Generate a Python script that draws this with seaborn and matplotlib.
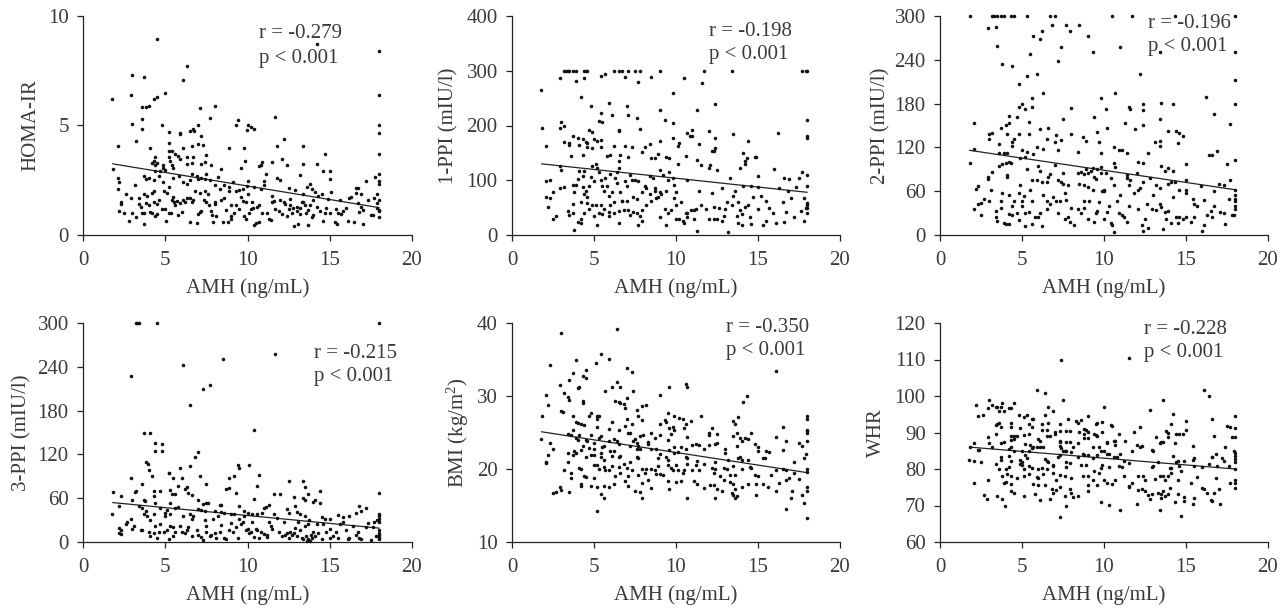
import matplotlib
matplotlib.use("Agg")
import matplotlib.pyplot as plt
import pandas as pd
import seaborn as sns

sns.set_theme(style="ticks")
plt.rcParams["font.family"] = ["Liberation Serif", "DejaVu Serif"]
plt.rcParams["mathtext.fontset"] = "custom"
plt.rcParams["mathtext.rm"] = "Liberation Serif"
plt.rcParams["mathtext.default"] = "regular"

TXT = "#3a3a3a"

# values: (AMH, y)
homa = [(4.5,8.95),(14.2,8.7),(18,8.4),(6.3,7.7),(3,7.3),(3.7,7.2),(6.1,7.1),(18,6.4),(2.9,6.4),(1.75,6.2),(4.3,6.2),(4.5,6.3),(5,6.5),
(3.6,5.85),(3.8,5.85),(4,5.9),(7.1,5.8),(8,5.9),(7.7,5.35),(3.6,5.3),(9.4,5.25),(11.7,5.4),(3,5.05),(4.8,5.0),(3.6,4.85),(7,5.0),(9.3,5.0),
(10,5.0),(10.2,4.95),(10.4,4.85),(9.95,4.8),(18,5.0),(18,4.65),(5.2,4.7),(6.5,4.75),(6.7,4.85),(6.75,4.75),(5.9,4.65),(5.9,4.6),(7.2,4.5),
(12.2,4.4),(3.2,4.3),(5.2,4.2),(2.1,4.05),(4.1,3.95),(6.6,4.05),(6.1,3.95),(7,4.15),(7.3,4.1),(8.9,3.95),(9.8,3.95),(11.8,4.05),(13.4,4.05),
(14.7,3.7),(18,3.7),(5.2,3.85),(5.4,3.85),(5.6,3.7),(5.8,3.6),(5.9,3.45),(6.3,3.55),(6.7,3.55),(7.5,3.65),(7.4,3.35),(4.4,3.55),(4.3,3.4),
(4.2,3.3),(4.4,3.2),(4.5,3.3),(5.2,3.55),(5.3,3.4),(5.4,3.2),(5.45,3.05),(4.85,3.2),(4.85,3.05),(6.3,3.25),(6.6,3.3),(7.2,3.25),(7.8,3.2),
(8.4,3.0),(9.6,3.05),(9.85,3.4),(10.7,3.15),(10.8,3.2),(10.9,3.35),(11.5,3.35),(12.1,3.45),(12.4,3.2),(13.2,2.75),(13.4,3.25),(14.2,3.25),
(14.6,2.9),(15,2.9),(15,2.55),(1.8,3.0),(2.1,2.6),(2.1,2.1),(2.2,2.4),(2.2,1.1),(2.3,1.5),(2.3,1.4),(2.5,1.0),(2.6,1.85),(2.8,0.65),(2.9,1.7),
(3,1.0),(3.15,2.3),(3.2,0.8),(3.4,1.7),(3.4,1.4),(3.5,1.3),(3.6,1.0),(3.7,0.5),(3.7,1.0),(3.7,1.85),(3.7,2.7),(3.8,2.55),(3.9,1.8),(3.85,1.45),
(4,1.35),(4,2.6),(4.2,1.9),(4.1,1.05),(4.2,1.0),(4.3,1.5),(4.3,2.0),(4.3,2.5),(4.4,0.85),(4.4,2.9),(4.5,0.95),(4.5,1.4),(4.6,2.7),(4.65,1.6),
(4.7,2.9),(4.8,1.2),(4.85,2.4),(4.9,2.0),(5,1.2),(5,2.95),(5.05,0.65),(5.1,1.9),(5.2,1.0),(5.2,2.2),(5.35,1.0),(5.4,1.6),(5.5,1.75),(5.5,2.6),
(5.55,1.5),(5.6,1.35),(5.7,1.55),(5.8,0.9),(5.85,2.7),(5.9,1.45),(6,1.05),(6.05,1.6),(6.1,2.4),(6.2,1.5),(6.3,1.7),(6.3,2.35),(6.5,0.6),(6.5,1.7),
(6.5,2.5),(6.6,1.5),(6.6,2.8),(6.7,1.6),(6.8,2.0),(6.9,0.55),(6.9,2.7),(7,0.95),(7,2.55),(7.1,1.05),(7.1,1.9),(7.2,1.1),(7.2,2.6),(7.35,1.6),
(7.4,2.0),(7.4,2.55),(7.5,1.5),(7.5,2.8),(7.6,1.85),(7.65,1.35),(7.7,2.5),(7.8,1.1),(7.85,0.9),(7.9,0.6),(8,1.5),(8,2.3),(8.05,1.4),(8.1,0.85),
(8.2,2.65),(8.3,2.1),(8.4,1.6),(8.5,0.6),(8.6,2.3),(8.6,1.7),(8.7,1.15),(8.8,0.6),(8.85,2.2),(8.9,2.0),(9,0.85),(9,1.35),(9,0.75),(9.1,2.4),
(9.2,1.0),(9.3,1.35),(9.3,2.0),(9.5,2.05),(9.5,1.2),(9.6,1.75),(9.7,1.55),(9.7,2.1),(9.8,0.85),(9.9,1.5),(9.9,0.75),(9.95,2.25),(10,2.45),(10,1.85),
(10.1,1.0),(10.2,1.2),(10.3,1.5),(10.35,1.25),(10.4,0.45),(10.4,2.2),(10.5,0.55),(10.6,1.3),(10.7,0.6),(10.7,1.35),(10.8,2.1),(10.9,1.0),(11,2.45),
(11,2.3),(11.1,2.8),(11.2,1.0),(11.3,0.75),(11.4,0.7),(11.5,1.5),(11.5,1.8),(11.6,1.55),(11.7,1.2),(11.8,2.6),(11.9,1.1),(12,2.5),(12,1.6),(12.1,0.95),
(12.2,1.5),(12.3,1.4),(12.4,0.85),(12.5,1.2),(12.55,2.15),(12.6,1.65),(12.6,1.35),(12.7,1.0),(12.75,1.25),(12.8,0.4),(12.9,2.05),(13,1.3),(13,1.1),
(13.1,0.5),(13.2,0.95),(13.2,1.25),(13.3,1.5),(13.4,1.85),(13.4,1.5),(13.5,1.35),(13.55,1.0),(13.6,2.2),(13.65,1.15),(13.7,0.45),(13.8,2.35),(13.8,1.35),
(13.9,0.8),(13.9,2.1),(14,1.6),(14,0.9),(14.1,1.95),(14.2,1.3),(14.3,1.8),(14.4,1.1),(14.5,1.85),(14.6,0.65),(14.7,1.0),(14.8,1.25),(14.9,1.65),(15,1.0),
(15.05,1.95),(15.3,0.6),(15.4,1.2),(15.45,0.5),(15.5,1.0),(15.6,1.6),(15.7,0.95),(15.8,1.1),(16,1.25),(16.1,0.65),(16.2,1.7),(16.3,1.75),(16.5,0.6),
(16.6,2.15),(16.6,1.9),(16.7,1.45),(16.7,2.15),(16.8,1.05),(16.9,1.85),(16.9,1.3),(17,0.5),(17,1.15),(17.2,2.45),(17.3,1.6),(17.5,0.9),(17.6,0.9),
(17.7,1.7),(17.75,2.65),(17.9,1.85),(17.9,1.45),(18,0.8),(18,1.1),(18,1.15),(18,1.6),(18,2.35),(18,2.45),(18,2.8),(17.9,1.25)]

ppi1 = [(3.2,300),(3.3,300),(3.4,300),(3.5,300),(3.7,300),(3.9,300),(4.4,300),(4.5,300),(4.55,300),(6.2,300),(6.55,300),(6.7,300),(7.1,300),(7.5,300),
(7.8,300),(9,300),(11.7,300),(13.4,300),(17.7,300),(18,300),(17.95,300),(2.9,286),(3.9,282),(4.4,287),(5.4,290),(5.7,294),(6.9,289),(7.7,280),(8.5,288),
(10.5,287),(11.6,278),(1.75,264),(9.8,260),(4.2,252),(4.8,236),(5.9,242),(7,236),(9,229),(5.4,223),(6.1,220),(7.1,220),(7.6,214),(11.3,229),(12.4,239),
(9.3,210),(9.8,204),(5.3,208),(5.5,206),(18,210),(1.8,196),(2.9,195),(3,206),(3.2,200),(4.7,191),(4.9,188),(6.5,192),(6.5,190),(7.8,193),(10.7,186),
(11,192),(12,190),(10.85,180),(10.95,180),(18,180),(18,177),(16.2,186),(13.5,185),(12.4,177),(9.8,178),(3.7,180),(4,178),(4.3,175),(4.5,170),(5,175),
(5.2,172),(5.4,173),(8.4,167),(9,172),(10.2,168),(10.15,163),(11.4,167),(12.4,158),(14.4,171),(14.1,150),(14.2,135),(14.3,140),(14.2,130),(14.9,142),
(14.8,142),(2.1,163),(3.2,169),(3.5,168),(3.5,165),(4.1,165),(4.3,146),(4.6,168),(4.6,160),(4.9,158),(5.4,160),(5.8,144),(5.95,147),(6.2,162),(6.5,135),
(6.6,146),(6.9,162),(7.1,142),(7.3,160),(7.9,152),(8.1,160),(8.5,140),(8.7,140),(8.9,148),(9.4,142),(9.6,140),(10.1,129),(10.6,145),(11.3,137),(11.5,127),
(12,122),(12.1,127),(12.2,154),(12.3,154),(12.5,119),(2.9,126),(3,118),(3.7,92),(3.6,144),(3.8,78),(4,103),(3.9,92),(4.1,117),(4.3,108),(4.4,117),(4.3,88),
(4.4,75),(4.5,80),(4.6,70),(4.7,90),(4.8,106),(4.9,126),(5,98),(5.1,130),(5.2,122),(5.3,115),(5.4,100),(5.5,90),(5.6,80),(5.7,105),(5.8,90),(5.9,72),
(6,112),(6.1,78),(6.3,105),(6.4,95),(6.4,115),(6.5,122),(6.6,78),(6.7,62),(6.9,98),(7,90),(7.2,110),(7.3,100),(7.4,70),(7.5,100),(7.6,65),(7.7,98),(7.9,78),
(8.1,90),(8.2,85),(8.4,75),(8.4,108),(8.6,105),(8.7,85),(8.8,68),(8.9,70),(9,118),(9,78),(9.2,110),(9.4,80),(9.5,100),(9.6,115),(9.8,105),(9.9,92),(10,78),
(2.1,98),(2.3,100),(2.1,70),(2.3,68),(2.2,52),(2.5,78),(2.5,30),(2.7,35),(2.9,85),(3.2,87),(3.4,43),(3.5,36),(3.7,40),(3.7,57),(4,24),(3.8,9),(4.2,22),
(4.2,30),(4.2,60),(4.4,40),(4.6,58),(4.7,48),(4.9,55),(5,35),(5.1,55),(5.2,18),(5.3,40),(5.4,55),(5.5,38),(5.6,48),(5.9,34),(5.9,42),(6,54),(6.2,40),
(6.2,60),(6.5,22),(6.5,43),(6.7,62),(6.8,45),(7,63),(7.1,45),(7.2,37),(7.4,42),(7.6,40),(7.7,18),(7.8,35),(7.9,45),(7.9,26),(8.2,55),(8.5,62),(8.7,80),
(9,33),(9.1,75),(9.3,48),(9.4,18),(9.5,40),(9.7,45),(9.9,68),(10,55),(10,30),(10.2,30),(10.3,60),(10.4,26),(10.5,22),(10.6,40),(10.7,40),(10.7,32),(10.7,100),
(10.9,45),(11.1,45),(11.1,30),(11.2,48),(11.3,8),(11.4,80),(11.5,54),(11.8,48),(12,30),(12.2,77),(12.3,30),(12.3,52),(12.5,30),(12.6,50),(12.8,26),(12.8,85),
(12.9,35),(13,48),(13.1,60),(13.2,6),(13.3,105),(13.4,55),(13.5,72),(13.6,80),(13.7,35),(13.8,60),(13.8,22),(13.9,46),(13.9,122),(14,18),(14,38),(14.1,90),
(14.2,52),(14.4,55),(14.5,32),(14.6,90),(14.6,20),(14.7,70),(15,48),(15,108),(15,88),(15.2,72),(15.3,18),(15.5,26),(15.5,62),(15.7,50),(15.9,40),(16,120),
(16.1,22),(16.3,85),(16.5,60),(16.6,24),(16.6,104),(16.7,42),(16.8,80),(16.9,103),(17,68),(17.2,32),(17.3,88),(17.5,105),(17.6,44),(17.7,115),(17.8,26),
(17.8,68),(17.9,50),(18,40),(18,50),(18,58),(18,90),(18,110),(18,55)]

ppi2 = [(1.8,300),(3.2,300),(3.3,300),(3.5,300),(3.7,300),(3.9,300),(4.3,300),(4.5,300),(5.3,300),(6.7,300),(7,300),(10.5,300),(11.7,300),(14.3,300),(18,300),
(2.9,284),(3.4,285),(6.8,288),(7.7,288),(7.9,280),(8.5,288),(5.7,273),(6.2,279),(6.1,269),(9,272),(3.5,259),(7.4,258),(5.5,248),(9.3,250),(11,258),(13.4,251),
(18,251),(7.2,239),(3.8,234),(4.4,232),(5.9,221),(5.3,218),(12.2,221),(4.8,207),(18,213),(6.3,194),(10.7,195),(5.6,188),(9.8,187),(16.2,189),(5,180),(4.8,176),
(5.6,175),(5.2,172),(8,174),(10.1,173),(11.5,176),(11.6,173),(12.4,180),(13.5,181),(14.2,179),(18,180),(12.4,171),(16.7,166),(4.2,163),(4.7,161),(7.5,159),
(9.4,162),(13.4,159),(2.1,153),(4,150),(4.2,153),(5.4,155),(11.3,154),(12.4,150),(17.7,152),(3.7,146),(6.1,145),(6.6,147),(10.2,147),(11.9,145),(3,138),(3.2,140),
(4.1,139),(4.8,139),(5.4,138),(7.1,137),(8,138),(9.6,141),(13.9,143),(14.4,142),(14.6,140),(14.8,136),(3,131),(4.4,127),(4.5,131),(6.5,131),(7,128),(7.4,130),
(8.7,134),(8.9,129),(9.7,128),(13.1,128),(13.4,129),(14.5,126),(3.6,124),(4.4,122),(5.9,120),(6.3,118),(7.2,116),(2.1,118),(3.6,113),(3.9,113),(4.1,113),(5,116),
(5.3,114),(5.7,111),(8.4,114),(9.8,112),(10.6,121),(10.9,116),(11.1,117),(11.4,112),(12.7,113),(13.4,122),(16.4,109),(16.6,109),(16.9,115),(18,103),(1.8,98),(3.6,95),
(3.8,97),(4,98),(4.2,100),(4.3,98),(4.9,106),(5.2,107),(5.3,90),(6,94),(6.1,88),(7,96),(7.5,85),(8.4,85),(8.6,86),(8.8,84),(8.9,91),(9,85),(9.2,88),(9.3,92),(9.6,90),
(9.8,93),(9.8,85),(10.1,85),(10.6,98),(10.7,93),(11.4,82),(12,85),(12.1,100),(12.4,99),(13.5,94),(13.9,92),(14.2,87),(15,97),(17.5,97),(3.2,86),(2.9,80),(2.9,77),
(4.1,79),(4.1,82),(5.6,75),(5.9,75),(6.2,72),(6.5,72),(6.6,80),(6.7,84),(7.2,76),(7.4,73),(7.5,70),(7.8,68),(8.5,70),(8.8,68),(9,66),(9.3,62),(9.4,80),(9.5,77),(9.9,60),
(10,62),(10.4,78),(10.6,68),(11.4,78),(11.5,68),(11.6,76),(11.8,58),(12.1,62),(12.2,64),(12.4,72),(12.8,78),(13.2,68),(13.4,64),(13.7,88),(13.9,70),(14.1,72),(14.3,72),
(14.6,62),(15,62),(15,76),(15.9,67),(16.7,60),(17,70),(17.3,68),(17.7,75),(18,62),(18,55),(18,50),(18,46),(18,40),(18,36),(2.2,63),(2.3,67),(2.1,35),(2.3,42),(2.5,44),
(2.5,27),(2.7,49),(3,46),(3.1,62),(3.4,33),(3.4,24),(3.5,19),(3.7,46),(3.7,37),(3.8,58),(3.9,16),(4,15),(4.2,55),(4.2,29),(4.2,15),(4.4,27),(4.4,40),(4.5,47),(4.7,30),
(4.8,20),(4.8,57),(4.9,68),(5,46),(5,40),(5.1,54),(5.2,13),(5.2,30),(5.4,32),(5.5,62),(5.6,47),(5.6,15),(5.8,24),(6,25),(6.1,30),(6.2,12),(6.3,55),(6.5,36),(6.5,46),
(6.7,42),(6.9,52),(7.1,47),(7.2,30),(7.3,46),(7.6,58),(7.6,22),(7.7,48),(7.8,24),(7.9,18),(8,37),(8.2,14),(8.4,36),(8.6,30),(8.8,46),(8.8,37),(9,22),(9.1,46),(9.4,18),
(9.5,30),(9.6,33),(9.7,45),(10,60),(10,22),(10.2,32),(10.3,40),(10.4,16),(10.5,14),(10.6,4),(10.8,46),(10.9,30),(11,55),(11.1,28),(11.2,24),(11.4,18),(11.5,40),(12.1,36),
(12.3,14),(12.4,6),(12.5,22),(12.6,42),(12.7,10),(12.9,36),(13,55),(13.2,34),(13.4,42),(13.5,38),(13.6,8),(13.7,32),(13.8,22),(13.9,33),(14.1,16),(14.2,52),(14.4,24),
(14.5,16),(14.6,24),(14.8,22),(15,58),(15,24),(15.3,18),(15.4,50),(15.5,42),(15.5,24),(15.7,40),(16,5),(16.1,14),(16.1,48),(16.3,28),(16.5,33),(16.6,24),(16.7,40),(17.1,32),
(17.3,30),(17.4,15),(17.6,50),(17.8,27),(17.9,28)]

ppi3 = [(3.2,300),(3.3,300),(3.4,300),(4.5,300),(18,300),(11.7,258),(8.5,251),(6.1,242),(2.9,228),(7.7,215),(7.3,210),(6.5,187),(10.4,153),(3.7,150),(4.1,149),
(4.4,136),(4.8,134),(4.4,124),(4.8,124),(7,123),(6.8,116),(3.8,110),(3.95,107),(6.5,104),(9.4,105),(10.1,105),(9.5,101),(4,98),(5.2,95),(5.2,95),(5.9,101),(4.2,90),
(5.5,88),(6,88),(7.1,91),(8.9,87),(9.2,91),(10.7,92),(2.9,87),(12.5,83),(13.4,83),(3.6,79),(5.8,77),(6.3,75),(7.5,80),(8.7,73),(8.9,74),(10.6,77),(13.5,76),(1.8,69),
(3.2,70),(3.15,68),(4.3,70),(4.7,70),(5.3,71),(5.4,66),(5.6,66),(6.2,72),(6.4,67),(6.6,65),(9.3,67),(11.6,66),(12,66),(13.7,66),(14.4,70),(18,67),(2.3,63),(4.3,63),(7,58),
(10.4,59),(12.8,62),(13.4,60),(13.5,57),(14,55),(14.1,57),(14.4,54),(3,58),(3.7,58),(3.75,56),(4.4,53),(5.3,53),(7.3,52),(7.5,54),(7.6,54),(8.3,51),(8.4,51),(9.5,50),
(11.3,51),(12.9,49),(2.2,50),(3.4,49),(3.6,47),(4.7,46),(5.1,44),(5.6,47),(5.8,48),(7,45),(7.2,44),(7.4,43),(8,42),(8.4,41),(8.6,40),(9,39),(9.8,43),(10,40),(10.3,38),
(10.6,38),(10.9,40),(11,46),(11.1,48),(12.4,45),(12.5,40),(13,41),(13.2,38),(13.5,36),(14.5,34),(14.7,32),(15,31),(15.5,37),(15.8,34),(16.2,35),(16.6,40),(16.8,49),(16.9,43),
(17.2,46),(18,38),(18,35),(18,32),(1.75,38),(2.2,19),(2.3,17),(2.2,12),(2.3,11),(2.6,25),(2.7,27),(2.9,31),(3,18),(3.1,22),(3.5,16),(3.6,16),(3.7,38),(3.8,42),(3.9,35),(4,14),
(4.1,8),(4.1,30),(4.3,38),(4.3,12),(4.4,22),(4.5,5),(4.6,14),(4.7,25),(4.9,14),(5,36),(5,40),(5.1,16),(5.2,4),(5.3,22),(5.3,38),(5.5,20),(5.5,8),(5.6,14),(5.9,22),(6,14),
(6.1,35),(6.2,12),(6.3,16),(6.4,21),(6.5,38),(6.6,8),(6.6,32),(6.7,36),(6.9,16),(7,10),(7.2,7),(7.3,3),(7.4,30),(7.5,22),(7.5,14),(7.7,8),(7.8,10),(7.9,32),(8,12),(8.1,6),(8.2,36),
(8.3,14),(8.4,23),(8.6,5),(8.7,4),(8.9,16),(9,26),(9.1,14),(9.2,38),(9.3,20),(9.4,6),(9.5,32),(9.6,24),(9.7,28),(9.8,36),(9.9,16),(10,18),(10.1,12),(10.2,14),(10.3,28),(10.4,7),
(10.5,18),(10.6,16),(10.7,5),(10.8,14),(11,11),(11.2,10),(11.2,7),(11.3,28),(11.4,22),(11.5,18),(11.6,38),(11.8,33),(11.9,14),(12.1,8),(12.2,28),(12.3,10),(12.4,12),(12.5,6),
(12.6,14),(12.7,10),(12.8,12),(12.9,19),(13,8),(13.1,28),(13.2,16),(13.3,6),(13.4,4),(13.5,22),(13.55,8),(13.6,2),(13.65,25),(13.7,4),(13.75,30),(13.8,2),(13.85,10),(13.9,6),
(14,14),(14.1,8),(14.2,24),(14.3,13),(14.5,4),(14.6,24),(14.8,14),(15,18),(15,6),(15.2,8),(15.4,14),(15.5,6),(15.6,24),(15.8,28),(16,16),(16.1,4),(16.2,6),(16.4,22),(16.6,10),
(16.7,14),(16.8,6),(16.9,4),(17.2,20),(17.3,26),(17.5,3),(17.6,20),(17.7,28),(17.8,8),(17.9,30),(18,28),(18,16),(18,13),(18,10),(18,7),(18,4)]

bmi = [(6.4,39.2),(3,38.6),(5.4,35.7),(5.9,35.1),(3.9,35),(5.1,34.5),(2.3,34.3),(7,33.8),(7.3,33.3),(16.1,33.4),(4.5,33.5),(3.7,33.2),(4.3,32.8),(4.5,32.4),(3.5,32.2),
(6.4,31.9),(10.6,31.6),(10.7,31.3),(2.9,31.5),(4.1,31.3),(4,31.1),(6.1,31.2),(6.6,31.3),(9.6,31.2),(5.7,30.7),(7.4,30.7),(2.1,30.2),(3.2,30.4),(9,30.1),(14.3,30),(3.4,29.8),
(3.5,29.5),(4.3,29.3),(4.3,29),(6.3,29.3),(6.5,29.2),(6.6,29.1),(6.8,28.9),(14.1,29.2),(2.2,28.8),(7,29.7),(7.9,28.6),(8.2,28.7),(6.9,28.4),(3,28),(3.1,27.8),(7.6,28.1),(4.8,27.7),
(4.7,27.3),(7.7,27.3),(9.5,27.7),(1.8,27.2),(3.7,27.2),(5.2,27.3),(5.3,27.2),(5.2,26.8),(9.9,27.2),(10.2,27),(10.4,26.9),(11.5,27.2),(13.8,27.1),(18,27.3),(18,26.8),(7,26.9),
(7.9,26.7),(3.9,26.5),(4,26.3),(4.2,26.2),(4.4,26),(6.1,26.5),(7.3,26.2),(9.3,26.7),(9.4,26.4),(9,26.2),(10.6,26.2),(10.9,26.6),(13.5,26.6),(13.6,26.2),(5.2,25.8),(5.9,25.5),
(6.9,25.9),(9.6,25.6),(9.8,25.8),(9.9,25.4),(10.5,25.6),(12.2,25.6),(16.5,25.7),(18,25.4),(18,25.2),(18,24.9),(3.7,25.4),(3.4,24.8),(3.6,24.7),(4.1,24.6),(4.8,24.6),(5.4,24.5),
(5.3,24.2),(6.5,25.4),(7.1,24.9),(7.2,25),(7.8,24.5),(8,24.7),(8.5,25),(8.7,24.3),(9,24.6),(9.5,24),(9.7,24.8),(12,25),(12,24.7),(12.5,24.8),(13.7,25),(13.5,24.5),(13.9,24.2),(14.2,24.3),
(14.4,24.1),(14.6,24.9),(16.1,24.4),(3.9,24.2),(4,24),(4.5,24),(4.6,23.8),(5.9,23.9),(6.2,24.1),(6.4,23.8),(7.4,23.9),(7.5,24.1),(7.6,23.6),(8.3,23.7),(10.7,24.4),(14,23.8),(16.7,23.8),
(17.5,23.5),(18,23.8),(2.3,23.6),(4.3,23.2),(5,23.5),(5.5,23),(5.6,23.1),(6.5,23.4),(7.2,23.1),(7.7,23.2),(8.3,23.4),(9.9,23),(10.3,23),(11,23.3),(11.2,23.4),(11.4,23.3),(12.4,23.4),(12.5,23.5),
(13.7,23.2),(14.8,23.4),(17.7,23.2),(2.5,22.7),(3.8,22.5),(3.4,22.2),(3.9,22.2),(4.2,22.6),(4.7,22.9),(5,22.7),(5.4,22.2),(6,22.4),(6.2,22.5),(7.6,22.7),(7.8,22.7),(8.5,22.7),(8.8,22.7),
(9,22),(9.6,22.6),(9.9,22.2),(10.1,22.3),(10.6,22.8),(11.7,22.8),(12,23.3),(13,22.2),(13,22.7),(15,23),(15,22.5),(15.4,21.5),(15.5,22.5),(15.7,22.3),(16.5,22.6),(17.9,22),(1.75,24.1),(2.2,21.9),
(2.1,21),(2.1,20.8),(3.7,21.9),(4.5,21.6),(4.8,21.9),(5,21.9),(5.4,21.6),(5.6,21.3),(6.1,21.8),(6.5,21.6),(6.6,21.8),(7.2,21),(7.6,21.7),(7.7,21.5),(8.9,21.5),(9.4,21.6),(9.5,21.2),(10.6,21.7),
(10.7,21.5),(11.3,21.1),(12.4,21),(13.2,21.2),(13.8,21.5),(13.9,21.7),(14,21.2),(14.4,21.3),(15.3,21.5),(17.2,21),(17.8,21.5),(3.2,19.8),(3.4,21),(4.1,20.1),(4.2,20),(4.4,19),(4.5,18.9),(5,20.5),
(5.2,20.5),(5.3,20),(5.6,20.3),(5.7,19.9),(5.9,19.9),(6.1,20.4),(6.3,19),(6.5,20.3),(6.6,19.4),(6.8,20.7),(7,20.1),(7.1,19),(7.3,19.9),(7.7,19.2),(7.9,20),(8.1,19.5),(8.2,20),(8.5,20),(8.7,19.9),
(8.8,19.3),(8.9,20.4),(9,19.3),(9.2,19.2),(9.5,20.5),(9.7,20.1),(9.8,19.8),(10,20.5),(10.1,19.9),(10.4,19.5),(10.5,19.9),(10.7,20.7),(11,19.9),(11.2,20.5),(11.4,19.9),(11.7,20.7),(12.2,20.2),(12.3,19.5),
(12.4,20),(12.7,19.1),(12.9,20.2),(13.1,20),(13.3,19.2),(13.5,20.4),(13.6,19.2),(14,20),(14.5,20.3),(14.6,20.2),(14.8,19.2),(15,19),(15.8,19.2),(16.1,19.9),(16.5,20),(16.7,19.8),(17.2,19.5),(18,20),(18,19.6),
(3.6,19.4),(3.6,18.7),(4.2,17.7),(4.2,18),(4.8,17.7),(5,18.7),(5.2,17.6),(5.6,17.7),(5.9,17.5),(6.2,17.9),(6.9,18.4),(7.1,17.7),(7.5,17),(7.9,18.1),(8.3,18.5),(8.5,17.4),(9.5,18.4),(9.6,17.3),(10,18.2),
(10.3,18.3),(11.1,18.4),(11.3,17.9),(11.7,17.4),(12.1,17.8),(12.3,17.8),(12.5,17.2),(12.8,17),(12.9,18.5),(13.3,18.2),(13.5,18),(13.6,17.2),(14,17.6),(14.4,17.9),(14.9,17.9),(15.3,18),(15.6,17.5),(16.1,17),
(16.3,18.1),(16.7,18.5),(16.9,18.8),(17.1,17),(17.5,18.6),(18,17.6),(18,17),(2.5,16.7),(2.7,16.9),(2.9,17.6),(3,17.1),(3.5,16.8),(5.4,16.6),(5.6,16),(7.8,16.9),(7.9,16),(10.7,16),(12.4,16),(13.4,16.7),(13.5,16.5),
(13.6,16),(13.7,16.3),(14.9,16.4),(17,16),(17.7,16.4),(17.8,15.3),(5.2,14.2),(16.7,14.5),(18,13.3)]

whr = [(7.4,109.8),(11.5,110.4),(5.9,101.7),(6.4,100.8),(16.1,101.7),(16.4,100),(3,99),(7.5,98.8),(13.6,98.8),(2.2,97.6),(3.2,97.5),(3.4,97),(3.5,97),(3.7,97),(3.8,98.1),(4.5,98.1),(2.9,96.8),(4.2,96.7),
(4.3,96.7),(6.6,97),(10,97),(3.6,96),(3.9,95.8),(6.9,95.9),(12.8,96.2),(2.3,94.6),(2.6,94.9),(4.8,94.8),(5.1,94.2),(5.3,94.9),(6.4,94.9),(9,94.6),(14.2,95.1),(18,94.5),(5.6,93.8),(5.7,93.8),(7.8,93.7),
(8.3,93.1),(8.6,93.5),(15,93.2),(16.6,93.6),(3.5,92.4),(3.6,92.6),(4.3,92.6),(5.4,92.3),(6.2,92.2),(6.6,92.5),(7.3,92.4),(8.4,92.5),(9.5,92.4),(9.6,92.5),(9.9,93),(10.4,92),(10.5,91.7),(14.1,92.3),(3.4,92),(3.7,91.4),
(4.3,91.5),(4.9,91.3),(5.6,91.5),(8.8,91),(8.9,90.8),(12.2,91.6),(17.5,91.7),(17.7,91.6),(18,91.2),(6.2,90.6),(6.5,90.7),(7,90.1),(7.3,90.5),(7.7,90.5),(7.9,90.3),(8.5,90.2),(9,90.2),(9.9,90.2),(11.8,90.2),(13.8,90.4),(13.9,89.9),
(15,90.7),(3.4,89.6),(4.3,89),(4.5,89),(4.7,89),(5.1,89.4),(5.4,89.7),(6.5,89.1),(6.7,89.1),(7,89.7),(7.3,87.8),(8.8,89.7),(9.4,89.6),(9.5,89.2),(9.6,89),(10.9,89.6),(13.2,88.8),(13.9,88.7),(14.4,89.6),(14.6,89.7),(14.8,89.7),(16.7,89),
(2.9,88.8),(4.3,88),(4.5,88.3),(6,88.2),(6.1,87.8),(7.3,87.4),(7.7,87.4),(7.9,87.5),(8.4,87),(8.8,88.4),(9,88.4),(10.2,87.5),(10.6,87.8),(10.7,87.7),(11.3,87.7),(13.4,87),(13.5,87.4),(13.6,87.5),(14.3,87.2),(17.8,88.7),(18,88.7),
(3,87),(3.7,87),(3.9,87.5),(5.2,86.9),(5.5,86.5),(5.7,86),(5.9,86),(6.3,86),(7.3,86.3),(7.4,85.7),(8.1,86),(9.3,85.9),(9.7,85.9),(10.2,87),(10.7,86.7),(12.2,86),(12.3,86.2),(12,86.7),(15.4,86.4),(16.6,83.4),(17.4,85.9),(1.85,86),(2.1,87),
(2.3,85.1),(2.4,85.2),(3.2,86),(4.2,85.5),(4.3,86),(4.5,85),(5,85),(5.4,85),(5.6,85.7),(6.1,85.9),(7.5,85),(7.7,84.9),(8,84.6),(9,83.9),(9.8,84.9),(10,84.8),(10.2,84.2),(11,84.2),(11.7,84.9),(12.9,85.3),(13,84.9),(14.2,83.6),(14.9,82.3),
(16.8,84.2),(17.9,85),(18,84.3),(18,83.5),(18,82.8),(18,81.8),(1.75,82.6),(2.1,82.1),(2.5,82),(3.4,81.3),(3.7,83.3),(3.7,82.4),(4.2,83.5),(4.3,82.2),(4.9,82.5),(5,82),(5.2,83.9),(5.3,83),(6.4,82.7),(6.5,82.3),(6.6,82),(6.9,81),(7.2,83.3),(7.3,83.9),
(7.6,84.9),(7.7,82),(7.9,81.6),(8.4,83.3),(8.7,84.1),(8.8,83.8),(9.3,83),(9.6,83.7),(9.9,81),(10.3,84),(10.6,83.4),(10.8,83.4),(11.2,82.2),(11.5,81.7),(13.3,81.8),(14.4,82),(14.5,82.1),(15.4,82.4),(15.5,83),(16.4,81.4),(16.6,83.4),(17.2,83),(17.3,82.2),
(3.6,80.1),(4,80),(4.2,80.5),(4.9,81.4),(5,81),(5.1,80),(5.4,80.7),(5.6,80.4),(6,79.9),(6.2,80.3),(6.5,80.1),(6.9,80.7),(7.7,80.5),(8.6,81),(8.9,81),(9.4,79.4),(9.7,79),(9.8,80.3),(10.3,80.5),(10.9,80.7),(11.1,80.5),(12.9,80.5),(13,80.7),(14,80.4),(14.1,80.2),
(14.7,79.5),(14.6,80.9),(15.5,80.7),(16,80.5),(16.9,80.7),(17.6,80.9),(18,80),(3.8,78.2),(3.9,76.1),(4.3,78),(4.1,78.5),(4.7,77.4),(5.1,78),(5.4,78.5),(5.7,76),(5.9,77.8),(6,77.5),(6.3,78.6),(6.9,79),(7.1,77),(7.3,78.4),(7.6,78),(8,77.6),(8.7,78),(9,78),(9.3,77),
(9.6,75.6),(10,77),(10.2,76.3),(10.5,76),(10.7,77),(11.2,78.2),(11.5,75),(11.7,76.2),(12.1,78),(12.4,78.2),(12.5,77),(13.1,77.2),(13.4,78),(13.6,78),(13.7,77),(13.9,78),(14.1,79),(14.5,77),(15.3,76.3),(15.7,77.8),(16.8,77.6),(18,77),(18,76.3),(17.7,76.3),
(2.1,76.2),(2.9,77),(4.3,75.9),(4,76.5),(4.3,74),(4.5,73.5),(5.8,73.1),(6,75.7),(6.4,75.6),(6.8,74.6),(6.9,73.3),(7.1,74.3),(7.3,75),(7.6,72.6),(7.9,74.6),(8,73.4),(9,74.1),(9,75.7),(11.5,75.3),(12.1,74.2),(12.3,74.6),(12.5,74),(12.7,73),(12.9,73.1),(13.3,73.5),
(13.5,73.2),(13.6,74),(13.9,73.2),(14,74.9),(14.5,73.2),(14.9,72.4),(15.5,72.1),(16,74.9),(16.1,74.6),(16.3,73.5),(16.7,73.3),(17,74.5),(18,74.9),(2.7,72.8),(2.85,71.9),(3.5,72.5),(3.8,71.8),(5.1,72.5),(6.1,71.6),(6.7,71.7),(8.1,72.2),(8.4,72.5),(10.3,70.1),(12.8,71.8),
(13.5,72.1),(13.7,72.5),(14.3,71),(14.9,71.2),(15.4,70.5),(16.5,71.6),(16.6,71.2),(17.1,70.4),(3.95,69.8),(7.7,69.8),(9.8,70.9),(11,68.8),(12,70.4),(13.4,68.8),(7.3,66.8),(14.7,67.2)]

panels = [homa, ppi1, ppi2, ppi3, bmi, whr]
ylabels = ["HOMA-IR", "1-PPI (mIU/l)", "2-PPI (mIU/l)", "3-PPI (mIU/l)", "BMI (kg/m$^{2}$)", "WHR"]
yticks = [[0, 5, 10], [0, 100, 200, 300, 400], [0, 60, 120, 180, 240, 300],
          [0, 60, 120, 180, 240, 300], [10, 20, 30, 40], [60, 70, 80, 90, 100, 110, 120]]
xticks = [0, 5, 10, 15, 20]
fit_x = [1.8, 18]
fit_y = [[3.25, 1.25], [130, 78], [116, 62], [54, 19], [25.1, 19.5], [86, 80]]
r_text = ["r = -0.279", "r = -0.198", "r = -0.196", "r = -0.215", "r = -0.350", "r = -0.228"]

W, H = 1288, 608
# left, right, top, bottom of each axes in pixels
boxes = [(83, 412, 16, 235), (512, 840, 16, 235), (940, 1268, 16, 235),
         (83, 412, 323, 542), (512, 840, 323, 542), (940, 1268, 323, 542)]
# where the r / p text starts, pixels
text_pos = [(259, 34, 58), (709, 32, 55), (1148, 24, 47), (314, 353, 376), (726, 328, 351), (1144, 330, 353)]
# y label centre, pixels
ylabel_x = [31, 449, 881, 22, 458, 876]

fig = plt.figure(figsize=(W / 100, H / 100), dpi=100)

for i, pts in enumerate(panels):
    l, r, t, b = boxes[i]
    ax = fig.add_axes([l / W, 1 - b / H, (r - l) / W, (b - t) / H])
    df = pd.DataFrame(pts, columns=["amh", "val"])
    sns.scatterplot(data=df, x="amh", y="val", ax=ax, color="#111111", s=6.5, linewidth=0, clip_on=False, zorder=3)
    sns.lineplot(x=fit_x, y=fit_y[i], ax=ax, color="#222222", linewidth=0.9, errorbar=None, zorder=2)
    ax.set_xlim(0, 20)
    ax.set_ylim(yticks[i][0], yticks[i][-1])
    ax.set_xticks(xticks)
    ax.set_yticks(yticks[i])
    ax.tick_params(length=4.3, width=0.9, color="#222222", labelsize=15, labelcolor=TXT)
    ax.tick_params(axis="x", pad=7)
    ax.tick_params(axis="y", pad=6)
    ax.set_xlabel("AMH (ng/mL)", fontsize=15, color=TXT, labelpad=6)
    ax.set_ylabel(ylabels[i], fontsize=15, color=TXT, va="center")
    ax.yaxis.set_label_coords(ylabel_x[i] / W, 1 - (t + b) / 2 / H, transform=fig.transFigure)
    sns.despine(ax=ax)
    for s in ["left", "bottom"]:
        ax.spines[s].set_linewidth(0.9)
        ax.spines[s].set_color("#222222")
    tx, y1, y2 = text_pos[i]
    fig.text(tx / W, 1 - y1 / H, r_text[i], fontsize=15, color=TXT, va="center")
    fig.text(tx / W, 1 - y2 / H, "p < 0.001", fontsize=15, color=TXT, va="center")

fig.savefig("out.png", dpi=100)
